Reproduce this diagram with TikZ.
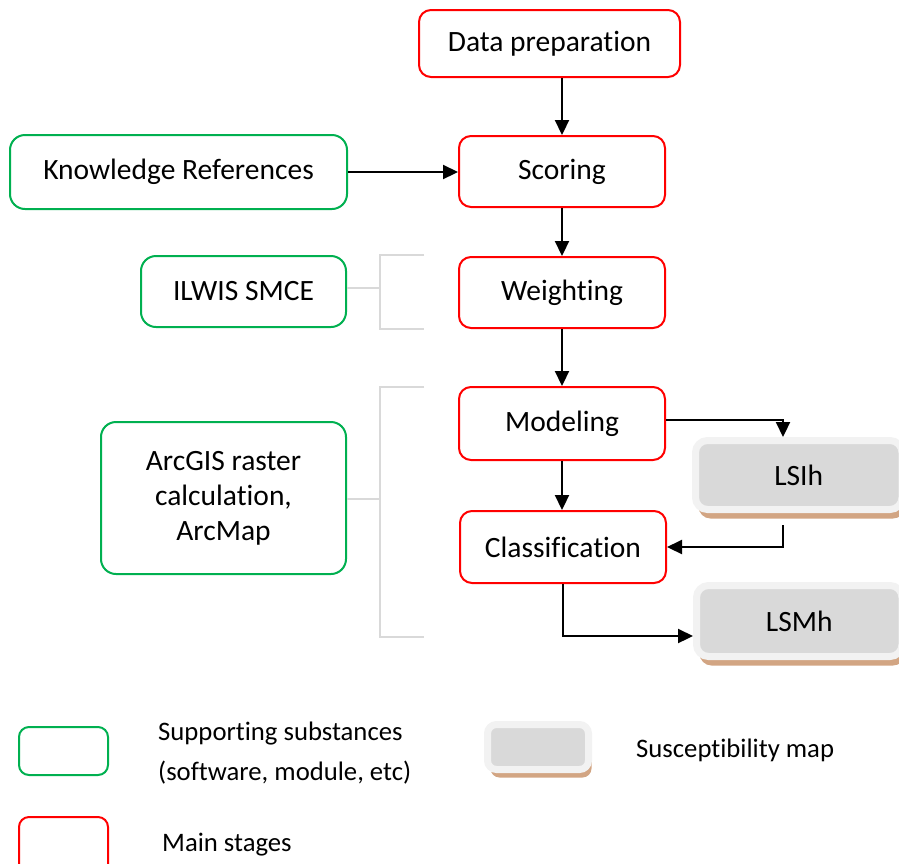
\documentclass[tikz,border=0pt]{standalone}
\usepackage{fontspec}
\setmainfont{Carlito}[Ligatures=NoCommon]
\usetikzlibrary{arrows.meta,shadows}
\definecolor{stagered}{HTML}{FF0000}
\definecolor{supgreen}{HTML}{00B050}
\definecolor{brackgray}{HTML}{D9D9D9}
\definecolor{mapfill}{HTML}{D9D9D9}
\definecolor{mapframe}{HTML}{F2F2F2}
\definecolor{maptan}{HTML}{D2A583}
\tikzset{
  stage/.style={draw=stagered, line width=2pt, rounded corners=12pt, fill=white,
    font=\fontsize{29.5}{33}\selectfont, align=center, inner sep=0pt},
  support/.style={draw=supgreen, line width=2pt, rounded corners=15pt, fill=white,
    font=\fontsize{29.5}{33}\selectfont, align=center, inner sep=0pt},
  mapbox/.style={draw=mapframe, fill=mapfill, line width=7pt, rounded corners=12pt,
    drop shadow={shadow xshift=3pt, shadow yshift=-9pt, fill=maptan, opacity=1},
    font=\fontsize{29.5}{33}\selectfont, inner sep=0pt},
  arr/.style={line width=2.2pt, -{Triangle[length=15pt,width=14pt]}},
  brack/.style={draw=brackgray, line width=2pt},
  legendtxt/.style={font=\fontsize{26.7}{40}\selectfont, anchor=west, align=left, inner sep=0pt}
}
\begin{document}
\begin{tikzpicture}[x=1pt,y=-1pt]
\useasboundingbox (0,0) rectangle (899,863);
\clip (0,0) rectangle (899,863);

% main stages
\node[stage, minimum width=261pt, minimum height=67pt] (prep) at (549.5,43.5) {Data preparation};
\node[stage, minimum width=206pt, minimum height=71pt] (score) at (562,171.5) {Scoring};
\node[stage, minimum width=206pt, minimum height=71pt] (weight) at (562,292.5) {Weighting};
\node[stage, minimum width=206pt, minimum height=73pt] (model) at (562,423.5) {Modeling};
\node[stage, minimum width=206pt, minimum height=72pt] (class) at (563,547) {Classification};

% supporting substances
\node[support, minimum width=337pt, minimum height=74pt] (know) at (178.5,172) {Knowledge References};
\node[support, minimum width=205pt, minimum height=71pt] (ilwis) at (243.5,291.5) {ILWIS SMCE};
\node[support, minimum width=245pt, minimum height=152pt] (arcgis) at (223.5,498) {ArcGIS raster\\[2pt]calculation,\\[2pt]ArcMap};

% susceptibility maps
\node[mapbox, minimum width=206.5pt, minimum height=69pt] (lsih) at (798.75,475) {LSIh};
\node[mapbox, minimum width=205.5pt, minimum height=71pt] (lsmh) at (799.25,621) {LSMh};

% brackets linking software to stages
\coordinate (b1) at (380,288);
\draw[brack] (ilwis.east |- b1) -- (b1);
\draw[brack] (424,255) -- (380,255) -- (380,329) -- (424,329);
\coordinate (b2) at (380,499);
\draw[brack] (arcgis.east |- b2) -- (b2);
\draw[brack] (424,387) -- (380,387) -- (380,637) -- (424,637);

% flow connectors
\coordinate (turn) at (783,420);
\draw[arr] (prep.south -| score.north) -- (score.north);
\draw[arr] (know.east) -- (know.east -| score.west);
\draw[arr] (score.south) -- (weight.north);
\draw[arr] (weight.south) -- (model.north);
\draw[arr] (model.south) -- (class.north -| model.south);
\draw[arr] (model.east |- turn) -| (turn |- lsih.north);
\draw[arr] ([yshift=-12pt]turn |- lsih.south) |- (class.east);
\draw[arr] (class.south) |- ([yshift=-15pt]lsmh.west);

% legend
\node[draw=supgreen, line width=2pt, rounded corners=10pt, minimum width=89pt, minimum height=48pt] (legsup) at (63.5,751) {};
\node[draw=stagered, line width=2pt, rounded corners=10pt, minimum width=89pt, minimum height=62pt] (legstage) at (63.5,848) {};
\node[legendtxt] (legsuptxt) at (158,753) {Supporting substances\\(software, module, etc)};
\node[legendtxt] (legstagetxt) at (162,845) {Main stages};
\node[draw=mapframe, fill=mapfill, line width=7pt, rounded corners=9pt,
  drop shadow={shadow xshift=3pt, shadow yshift=-8pt, fill=maptan, opacity=1},
  minimum width=101pt, minimum height=45pt] (legmap) at (538,747) {};
\node[legendtxt] (legmaptxt) at (636,750) {Susceptibility map};
\end{tikzpicture}
\end{document}
